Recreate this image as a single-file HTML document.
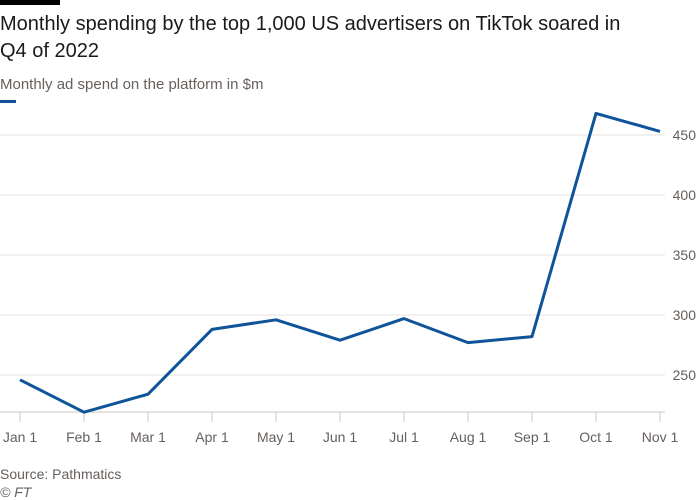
<!DOCTYPE html>
<html><head><meta charset="utf-8"><style>
body{margin:0;background:#fff;font-family:"Liberation Sans",sans-serif;}
svg{display:block}
</style></head><body>
<svg width="700" height="500" xmlns="http://www.w3.org/2000/svg">
<rect x="0" y="0" width="700" height="500" fill="#fff"/>
<rect x="0" y="0" width="60" height="5" fill="#000"/>
<text x="0" y="30" font-size="20" fill="#1a1a1a">Monthly spending by the top 1,000 US advertisers on TikTok soared in</text>
<text x="0" y="57" font-size="20" fill="#1a1a1a">Q4 of 2022</text>
<text x="0" y="89" font-size="15" fill="#66605c">Monthly ad spend on the platform in $m</text>
<rect x="0" y="100" width="16" height="3" fill="#0f5499"/>
<g id="grid"></g><g id="xaxis"></g>
<path id="line" fill="none" stroke="#0f5499" stroke-width="3" stroke-linejoin="round"/>
<text x="0" y="479" font-size="14" fill="#66605c">Source: Pathmatics</text>
<text x="0" y="497" font-size="14" font-style="italic" fill="#66605c">© FT</text>
</svg>
<script>
const categories=["Jan 1","Feb 1","Mar 1","Apr 1","May 1","Jun 1","Jul 1","Aug 1","Sep 1","Oct 1","Nov 1"];
const values=[246,219,234,288,296,279,297,277,282,468,453];
const yTicks=[250,300,350,400,450];
const NS="http://www.w3.org/2000/svg";
const x=i=>20+i*64;
const y=v=>375-(v-250)*1.2;
const grid=document.getElementById('grid');
yTicks.forEach(t=>{
 const l=document.createElementNS(NS,'line');
 l.setAttribute('x1',0);l.setAttribute('x2',665);l.setAttribute('y1',y(t));l.setAttribute('y2',y(t));
 l.setAttribute('stroke','#e6e3e0');l.setAttribute('stroke-width','1');
 
 
 grid.appendChild(l);
 const tx=document.createElementNS(NS,'text');
 tx.setAttribute('x',696);tx.setAttribute('y',y(t)+5);tx.setAttribute('text-anchor','end');
 tx.setAttribute('font-size','14');tx.setAttribute('fill','#66605c');tx.textContent=t;
 
 
 grid.appendChild(tx);
});
const xa=document.getElementById('xaxis');
const base=412;
const bl=document.createElementNS(NS,'line');
bl.setAttribute('x1',0);bl.setAttribute('x2',665);bl.setAttribute('y1',base);bl.setAttribute('y2',base);
bl.setAttribute('stroke','#ccc7c2');


xa.appendChild(bl);
categories.forEach((c,i)=>{
 const tk=document.createElementNS(NS,'line');
 tk.setAttribute('x1',x(i));tk.setAttribute('x2',x(i));tk.setAttribute('y1',base);tk.setAttribute('y2',base+10);
 tk.setAttribute('stroke','#ccc7c2');
 
 
 xa.appendChild(tk);
 const tx=document.createElementNS(NS,'text');
 tx.setAttribute('x',x(i));tx.setAttribute('y',442);tx.setAttribute('text-anchor','middle');
 tx.setAttribute('font-size','14');tx.setAttribute('fill','#66605c');tx.textContent=c;
 
 
 xa.appendChild(tx);
});
document.getElementById('line').setAttribute('d',values.map((v,i)=>(i?'L':'M')+x(i)+','+y(v)).join(' '));
</script>
</body></html>
